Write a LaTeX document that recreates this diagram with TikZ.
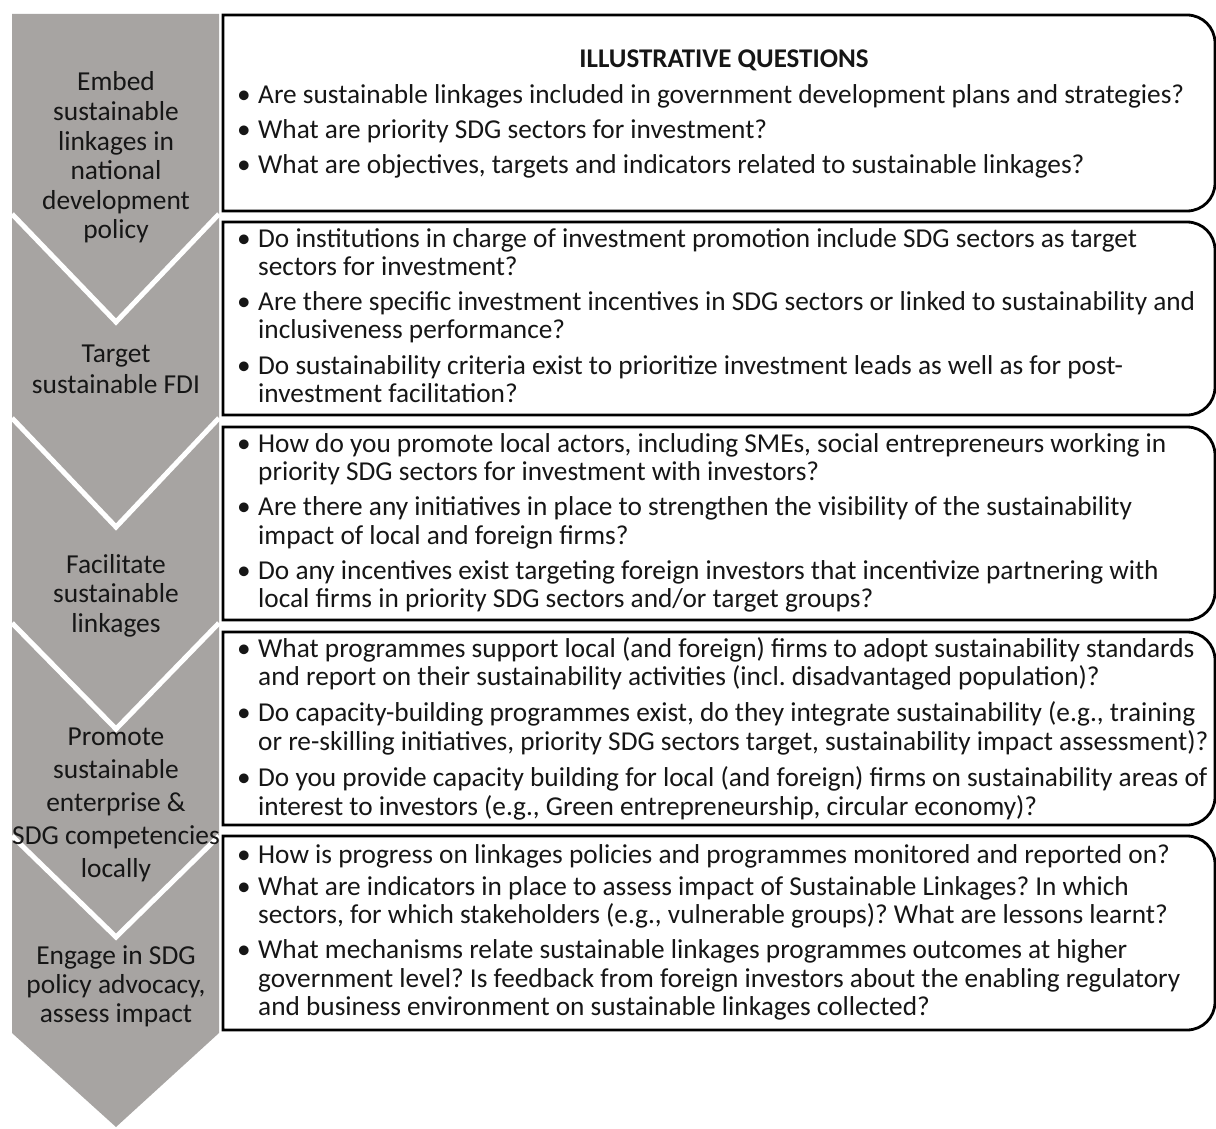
\documentclass[tikz,border=0pt]{standalone}
\usepackage{fontspec}
\setmainfont{Carlito}
\frenchspacing
\definecolor{chev}{RGB}{167,164,162}
\definecolor{txt}{RGB}{22,22,22}
\newcommand\bl{\makebox[21pt][l]{•}}
\newcommand\ct{\hspace*{21pt}}
\newcommand\qboxpath[2]{%
  \draw[qbox] (1187,#1) -- (223,#1) -- (223,#2) -- (1187,#2)
    .. controls (1202.5,#2) and (1215,#2-12.5) .. (1215,#2-28)
    -- (1215,#1+28)
    .. controls (1215,#1+12.5) and (1202.5,#1) .. (1187,#1) -- cycle;}
\begin{document}
\begin{tikzpicture}[x=1pt,y=-1pt,
  qbox/.style={line width=2.8pt, draw=black},
  qtext/.style={anchor=base west, inner sep=0pt, text=txt, font=\fontsize{27.3}{28.5}\selectfont},
  stage/.style={anchor=base, inner sep=0pt, text=txt},
  sep/.style={draw=white, line width=5pt}]
\useasboundingbox (0,0) rectangle (1216,1129);
\fill[white] (0,0) rectangle (1216,1129);
% grey chevron column
\fill[chev] (12,14) -- (219,14) -- (219,1033) -- (116,1127) -- (12,1033) -- cycle;
% white separators
\coordinate (v1l) at (12,214);  \coordinate (v1a) at (116,322); \coordinate (v1r) at (219,214);
\coordinate (v2l) at (12,418);  \coordinate (v2a) at (116,527); \coordinate (v2r) at (219,418);
\coordinate (v3l) at (12,623);  \coordinate (v3a) at (116,729); \coordinate (v3r) at (219,623);
\coordinate (v4l) at (12,836);  \coordinate (v4a) at (116,937); \coordinate (v4r) at (219,836);
\draw[sep] (v1l) -- (v1a) -- (v1r);
\draw[sep] (v2l) -- (v2a) -- (v2r);
\draw[sep] (v3l) -- (v3a) -- (v3r);
\draw[sep] (v4l) -- (v4a) -- (v4r);
% question boxes
\qboxpath{15}{211}
\qboxpath{222}{415}
\qboxpath{427}{620}
\qboxpath{632}{825}
\qboxpath{836}{1030}
% stage labels
\node[stage] (s1) at (116,91) {\parbox[t]{230pt}{\centering\fontsize{27.4}{29.6}\selectfont Embed\\ sustainable\\ linkages in\\ national\\ development\\ policy}};
\node[stage] (s2) at (116,362) {\parbox[t]{230pt}{\centering\fontsize{27.4}{31.5}\selectfont Target\\ sustainable FDI}};
\node[stage] (s3) at (116,573) {\parbox[t]{230pt}{\centering\fontsize{27.4}{29.5}\selectfont Facilitate\\ sustainable\\ linkages}};
\node[stage] (s4) at (116,745) {\parbox[t]{230pt}{\centering\fontsize{27.4}{33}\selectfont Promote\\ sustainable\\ enterprise \&\\ SDG competencies\\ locally}};
\node[stage] (s5) at (116,964) {\parbox[t]{230pt}{\centering\fontsize{27.4}{29.3}\selectfont Engage in SDG\\ policy advocacy,\\ assess impact}};
% title
\node[anchor=base, inner sep=0pt, text=txt, font=\fontsize{27}{30}\selectfont\bfseries] (title) at (724,68) {ILLUSTRATIVE QUESTIONS};
% questions
\node[qtext] (q1) at (237,104) {\parbox[t]{990pt}{\raggedright
\bl Are sustainable linkages included in government development plans and strategies?\\[6.5pt]
\bl What are priority SDG sectors for investment?\\[6.5pt]
\bl What are objectives, targets and indicators related to sustainable linkages?}};
\node[qtext] (q2) at (237,247) {\parbox[t]{990pt}{\raggedright
\bl Do institutions in charge of investment promotion include SDG sectors as target\\
\ct sectors for investment?\\[6.5pt]
\bl Are there specific investment incentives in SDG sectors or linked to sustainability and\\
\ct inclusiveness performance?\\[6.5pt]
\bl Do sustainability criteria exist to prioritize investment leads as well as for post-\\
\ct investment facilitation?}};
\node[qtext] (q3) at (237,452) {\parbox[t]{990pt}{\raggedright
\bl How do you promote local actors, including SMEs, social entrepreneurs working in\\
\ct priority SDG sectors for investment with investors?\\[6.5pt]
\bl Are there any initiatives in place to strengthen the visibility of the sustainability\\
\ct impact of local and foreign firms?\\[6.5pt]
\bl Do any incentives exist targeting foreign investors that incentivize partnering with\\
\ct local firms in priority SDG sectors and/or target groups?}};
\node[qtext] (q4) at (237,657) {\parbox[t]{990pt}{\raggedright\fontsize{27.3}{28.7}\selectfont
\bl What programmes support local (and foreign) firms to adopt sustainability standards\\
\ct and report on their sustainability activities (incl. disadvantaged population)?\\[7.5pt]
\bl Do capacity-building programmes exist, do they integrate sustainability (e.g., training\\
\ct or re-skilling initiatives, priority SDG sectors target, sustainability impact assessment)?\\[7.5pt]
\bl Do you provide capacity building for local (and foreign) firms on sustainability areas of\\
\ct interest to investors (e.g., Green entrepreneurship, circular economy)?}};
\node[qtext] (q5) at (237,863) {\parbox[t]{990pt}{\raggedright
\bl How is progress on linkages policies and programmes monitored and reported on?\\[3.5pt]
\bl What are indicators in place to assess impact of Sustainable Linkages? In which\\
\ct sectors, for which stakeholders (e.g., vulnerable groups)? What are lessons learnt?\\[6.5pt]
\bl What mechanisms relate sustainable linkages programmes outcomes at higher\\
\ct government level? Is feedback from foreign investors about the enabling regulatory\\
\ct and business environment on sustainable linkages collected?}};
\end{tikzpicture}
\end{document}
